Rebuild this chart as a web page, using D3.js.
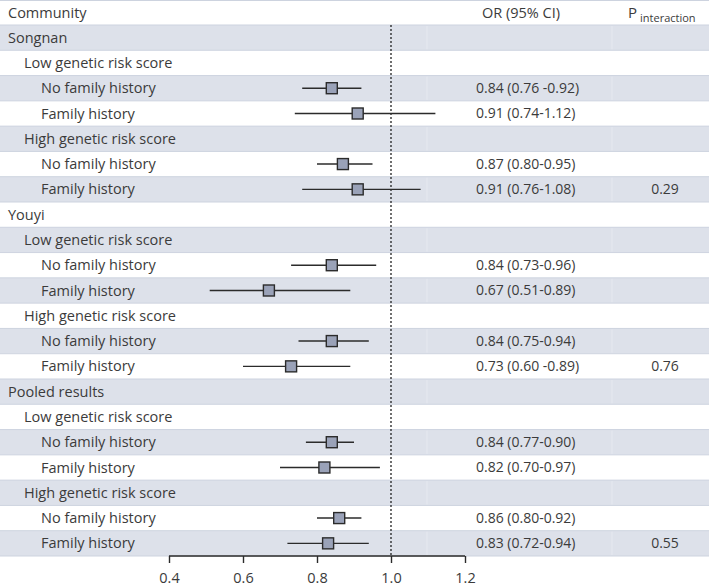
<!DOCTYPE html>
<html>
<head>
<meta charset="utf-8">
<script src="https://cdn.jsdelivr.net/npm/d3@7/dist/d3.min.js"></script>
<style>
  html, body { margin: 0; padding: 0; background: #fff; }
  svg text { font-family: "Open Sans", "Noto Sans", sans-serif; fill: #3b3b3b; }
</style>
</head>
<body>
<svg id="chart" width="709" height="588"></svg>
<script>
// ---- data ----
const rowLabels = [
  "Songnan",
  "Low genetic risk score", "No family history", "Family history",
  "High genetic risk score", "No family history", "Family history",
  "Youyi",
  "Low genetic risk score", "No family history", "Family history",
  "High genetic risk score", "No family history", "Family history",
  "Pooled results",
  "Low genetic risk score", "No family history", "Family history",
  "High genetic risk score", "No family history", "Family history"
];
const rowLevels = [0,1,2,2,1,2,2, 0,1,2,2,1,2,2, 0,1,2,2,1,2,2];
const orValues = [null,null,0.84,0.91,null,0.87,0.91, null,null,0.84,0.67,null,0.84,0.73, null,null,0.84,0.82,null,0.86,0.83];
const ciLower  = [null,null,0.76,0.74,null,0.80,0.76, null,null,0.73,0.51,null,0.75,0.60, null,null,0.77,0.70,null,0.80,0.72];
const ciUpper  = [null,null,0.92,1.12,null,0.95,1.08, null,null,0.96,0.89,null,0.94,0.89, null,null,0.90,0.97,null,0.92,0.94];
const orTexts  = ["","","0.84 (0.76 -0.92)","0.91 (0.74-1.12)","","0.87 (0.80-0.95)","0.91 (0.76-1.08)",
                  "","","0.84 (0.73-0.96)","0.67 (0.51-0.89)","","0.84 (0.75-0.94)","0.73 (0.60 -0.89)",
                  "","","0.84 (0.77-0.90)","0.82 (0.70-0.97)","","0.86 (0.80-0.92)","0.83 (0.72-0.94)"];
const pTexts   = ["","","","","","","0.29", "","","","","","","0.76", "","","","","","","0.55"];
const xTicks = [0.4, 0.6, 0.8, 1.0, 1.2];

// ---- layout ----
const W = 709, H = 588;
const top0 = 25, bottom0 = 556;
const svg = d3.select("#chart");
const x = d3.scaleLinear().domain([0.4, 1.2]).range([169, 465]);
const y = d3.scaleBand().domain(d3.range(rowLabels.length)).range([top0, bottom0]).padding(0);
const rh = y.bandwidth();

// row backgrounds
svg.append("g").selectAll("rect").data(d3.range(rowLabels.length)).join("rect")
  .attr("x", 0).attr("width", W)
  .attr("y", i => y(i)).attr("height", rh)
  .attr("fill", i => i % 2 === 0 ? "#dde1ea" : "#ffffff");
// row borders
svg.append("g").selectAll("line").data(d3.range(rowLabels.length + 1)).join("line")
  .attr("x1", 0).attr("x2", W)
  .attr("y1", i => i < rowLabels.length ? y(i) : bottom0)
  .attr("y2", i => i < rowLabels.length ? y(i) : bottom0)
  .attr("stroke", "#cdd3df").attr("stroke-width", 1);
// top border
svg.append("line").attr("x1", 0).attr("x2", W).attr("y1", 0.5).attr("y2", 0.5)
  .attr("stroke", "#cdd3df");
// faint column separators
[427, 612].forEach(cx => {
  svg.append("g").selectAll("line").data(d3.range(0, rowLabels.length, 2)).join("line")
    .attr("x1", cx).attr("x2", cx).attr("y1", i => y(i) + 1).attr("y2", i => y(i) + rh - 1)
    .attr("stroke", "#e6e9f0").attr("stroke-width", 1);
});

// header
svg.append("text").attr("x", 8).attr("y", 13).attr("dy", "0.35em")
  .style("font-size", "14.5px").text("Community");
svg.append("text").attr("x", 521).attr("y", 13).attr("dy", "0.35em")
  .attr("text-anchor", "middle").style("font-size", "14.5px").text("OR (95% CI)");
const pt = svg.append("text").attr("x", 628).attr("y", 13).attr("dy", "0.35em").style("font-size", "15px");
pt.append("tspan").text("P");
pt.append("tspan").attr("dx", 3).attr("dy", 4).style("font-size", "11px").text("interaction");

// row labels
const indent = [8, 24, 41];
svg.append("g").selectAll("text").data(d3.range(rowLabels.length)).join("text")
  .attr("x", i => indent[rowLevels[i]])
  .attr("y", i => y(i) + rh / 2).attr("dy", "0.35em")
  .style("font-size", "14.5px")
  .text(i => rowLabels[i]);

// reference line
svg.append("line").attr("x1", x(1)).attr("x2", x(1)).attr("y1", top0).attr("y2", bottom0)
  .attr("stroke", "#222").attr("stroke-width", 1.3).attr("stroke-dasharray", "2,2");

// CIs
const est = d3.range(rowLabels.length).filter(i => orValues[i] !== null);
svg.append("g").selectAll("line").data(est).join("line")
  .attr("x1", i => x(ciLower[i])).attr("x2", i => x(ciUpper[i]))
  .attr("y1", i => y(i) + rh / 2).attr("y2", i => y(i) + rh / 2)
  .attr("stroke", "#2b2b2b").attr("stroke-width", 1.4);
const bs = 11;
svg.append("g").selectAll("rect").data(est).join("rect")
  .attr("x", i => x(orValues[i]) - bs / 2).attr("y", i => y(i) + rh / 2 - bs / 2)
  .attr("width", bs).attr("height", bs)
  .attr("fill", "#9aa2b8").attr("stroke", "#2b2b2b").attr("stroke-width", 1.4);

// OR texts
svg.append("g").selectAll("text").data(est).join("text")
  .attr("x", 476).attr("y", i => y(i) + rh / 2).attr("dy", "0.35em")
  .style("font-size", "14px").text(i => orTexts[i]);
// P texts
svg.append("g").selectAll("text").data(d3.range(rowLabels.length).filter(i => pTexts[i])).join("text")
  .attr("x", 665).attr("y", i => y(i) + rh / 2).attr("dy", "0.35em")
  .attr("text-anchor", "middle").style("font-size", "14px").text(i => pTexts[i]);

// axis
const axis = d3.axisBottom(x).tickValues(xTicks).tickFormat(d3.format(".1f")).tickSize(7).tickPadding(10);
const ag = svg.append("g").attr("transform", `translate(0,${bottom0})`).call(axis);
ag.select(".domain").attr("stroke", "#2b2b2b").attr("stroke-width", 1.4).attr("d", `M${x(0.4)},0H${x(1.2)}`);
ag.selectAll(".tick line").attr("stroke", "#2b2b2b").attr("stroke-width", 1.4);
ag.selectAll(".tick text").style("font-size", "14.5px").style("font-family", "'Open Sans', sans-serif").attr("fill", "#3b3b3b");
</script>
</body>
</html>
